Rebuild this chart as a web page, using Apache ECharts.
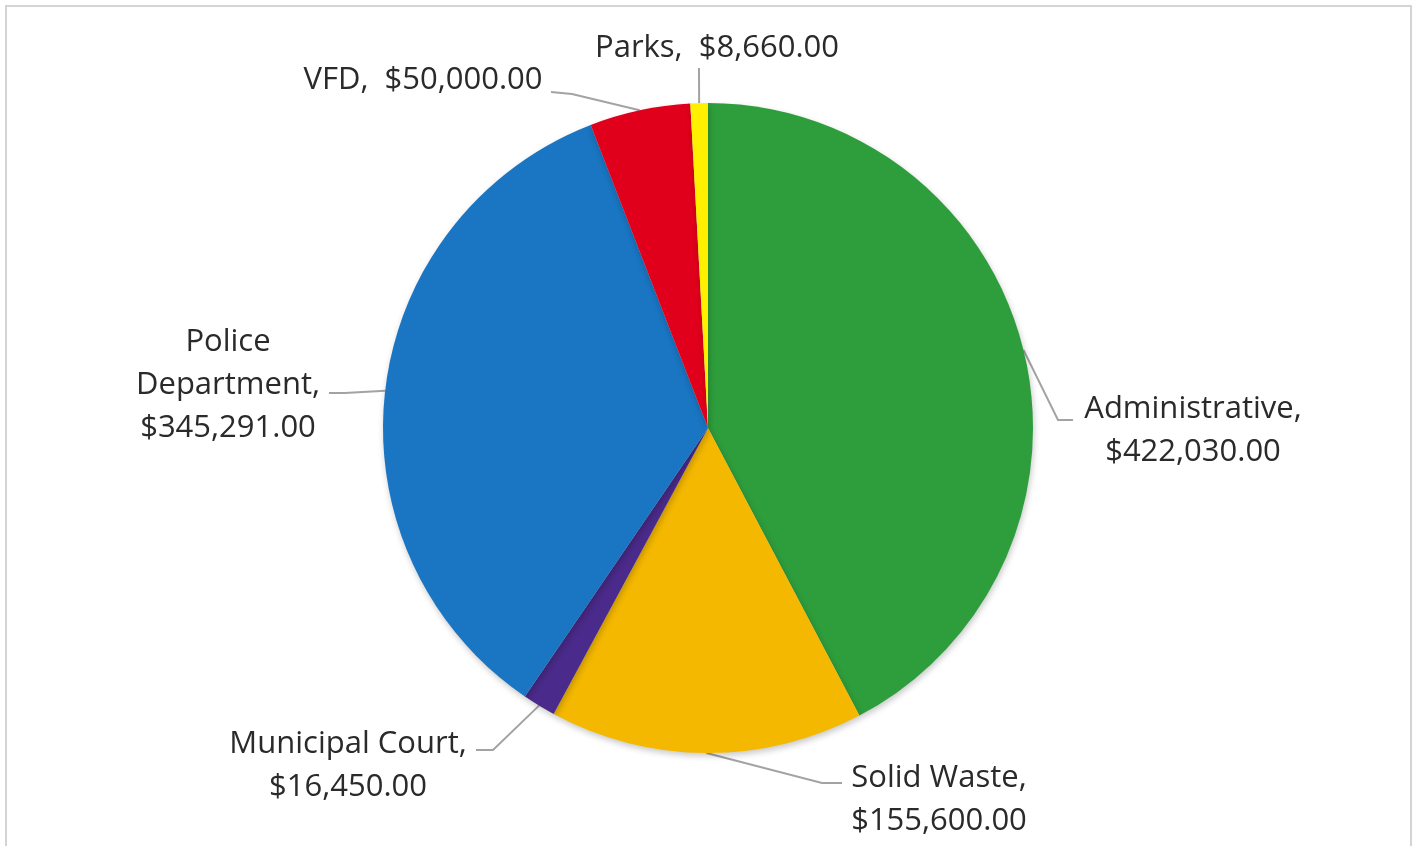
<!DOCTYPE html>
<html>
<head>
<meta charset="utf-8">
<title>Budget by Department</title>
<script src="https://cdn.jsdelivr.net/npm/echarts@6/dist/echarts.min.js"></script>
<style>
  html, body { margin: 0; padding: 0; background: #ffffff; }
  #chart { width: 1418px; height: 846px; }
</style>
</head>
<body>
<div id="chart"></div>
<script>
// Budget amounts per department
const categories = ['Administrative', 'Solid Waste', 'Municipal Court', 'Police Department', 'VFD', 'Parks'];
const amounts = [422030, 155600, 16450, 345291, 50000, 8660];
const sliceColors = ['#2e9d3c', '#f4b800', '#4a2a8a', '#1a75c2', '#e0001b', '#fff000'];

// How each label's text is wrapped
const labelWrap = [
  { nameBreak: false, valueBreak: true },
  { nameBreak: false, valueBreak: true },
  { nameBreak: false, valueBreak: true },
  { nameBreak: true,  valueBreak: true },
  { nameBreak: false, valueBreak: false },
  { nameBreak: false, valueBreak: false }
];

// Label placement (text centre) and leader-line elbow / end, in px
const labelPlace = [
  { x: 1193, y: 431, elbow: [1058, 420], end: [1073, 420] },
  { x: 939,  y: 800, elbow: [822, 783],  end: [842, 783] },
  { x: 348,  y: 766, elbow: [493, 750],  end: [476, 750] },
  { x: 228,  y: 385, elbow: [345, 393],  end: [329, 393] },
  { x: 423,  y: 80,  elbow: [572, 94],   end: [551, 92] },
  { x: 717,  y: 48,  elbow: [699, 72],   end: [699, 68] }
];

function money(v) {
  return '$' + v.toLocaleString('en-US', { minimumFractionDigits: 2, maximumFractionDigits: 2 });
}

const chart = echarts.init(document.getElementById('chart'), null, { renderer: 'canvas' });

chart.setOption({
  backgroundColor: '#ffffff',
  animation: false,
  graphic: [{
    type: 'rect',
    shape: { x: 6, y: 6, width: 1405, height: 860 },
    style: { fill: 'none', stroke: '#d4d4d4', lineWidth: 2 },
    silent: true
  }],
  series: [{
    type: 'pie',
    center: [708, 428],
    radius: 325,
    startAngle: 90,
    clockwise: true,
    avoidLabelOverlap: false,
    data: categories.map((name, i) => ({
      name: name,
      value: amounts[i],
      itemStyle: { color: sliceColors[i] }
    })),
    itemStyle: {
      borderWidth: 0,
      shadowBlur: 6,
      shadowOffsetX: 1,
      shadowOffsetY: 3,
      shadowColor: 'rgba(0,0,0,0.22)'
    },
    label: {
      show: true,
      position: 'outside',
      fontFamily: '"Open Sans", "Noto Sans", sans-serif',
      fontSize: 31,
      lineHeight: 43,
      color: '#2a2a2a',
      align: 'center',
      formatter: function (p) {
        const w = labelWrap[p.dataIndex];
        const name = w.nameBreak ? p.name.replace(' ', '\n') : p.name;
        return name + ',' + (w.valueBreak ? '\n' : '  ') + money(p.value);
      }
    },
    labelLine: {
      show: true,
      length: 10,
      length2: 10,
      smooth: false,
      lineStyle: { color: '#a3a3a3', width: 2 }
    },
    labelLayout: function (params) {
      const pl = labelPlace[params.dataIndex];
      const start = params.labelLinePoints ? params.labelLinePoints[0] : pl.elbow;
      return {
        x: pl.x,
        y: pl.y,
        align: 'center',
        verticalAlign: 'middle',
        labelLinePoints: [start, pl.elbow, pl.end]
      };
    }
  }]
});
</script>
</body>
</html>
